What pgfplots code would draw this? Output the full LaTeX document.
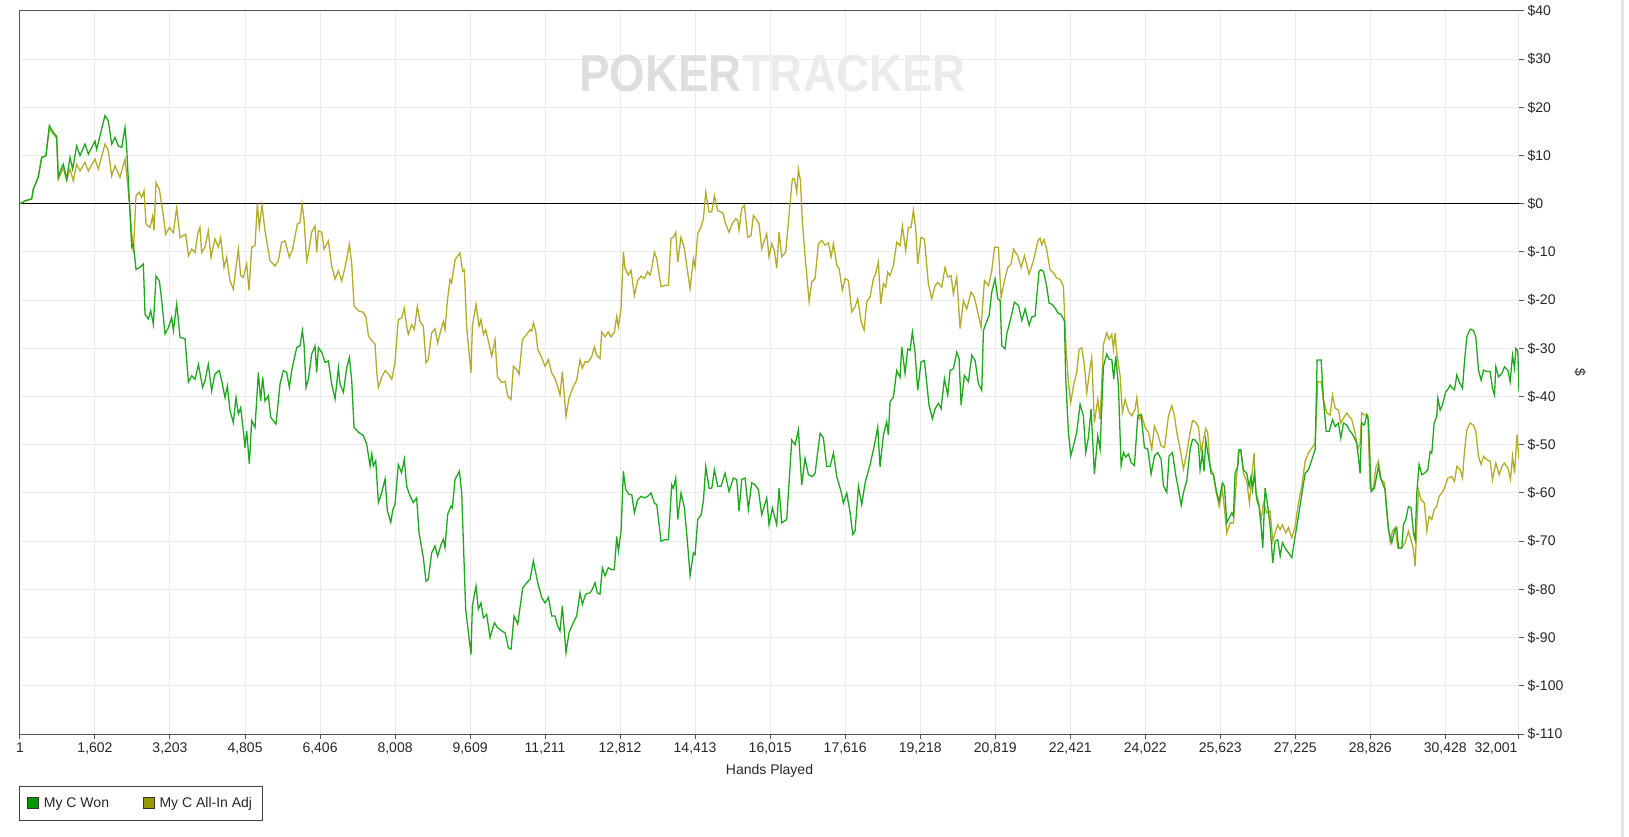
\documentclass[border=0pt]{standalone}
\usepackage{fontspec}
\setmainfont{Liberation Sans}
\usepackage{pgfplots}
\usepackage{pgfplotstable}
\pgfplotsset{compat=1.18}
\definecolor{cgreen}{RGB}{30,168,30}
\definecolor{colive}{RGB}{178,172,40}
\definecolor{boxgreen}{RGB}{0,153,0}
\definecolor{boxolive}{RGB}{153,153,0}
\definecolor{gridc}{RGB}{235,235,235}
\definecolor{axc}{RGB}{85,85,85}

\pgfplotstableread{
x y
1 0
107 0.6
250 1
285 3
390 5.5
463 9.6
555 10
627 16.2
712 14.8
783 14
819 5.5
890 7.5
926 8.2
997 5.1
1068 9.6
1125 7.2
1210 12
1282 10
1388 12.4
1460 10.3
1602 13
1638 11.3
1744 15.5
1816 18.3
1887 17.2
1958 12.4
2029 13.8
2100 12
2172 11.7
2243 15.8
2278 11.7
2350 -2.1
2385 -9
2421 -8.4
2478 -13.6
2563 -13.2
2634 -12.5
2670 -22.9
2741 -23.9
2791 -22.2
2848 -25
2905 -15
2976 -16
3026 -20
3097 -27
3168 -25.7
3240 -23.6
3275 -26.3
3346 -20.8
3418 -27.7
3524 -28
3596 -37
3667 -35.7
3738 -36.4
3809 -33.3
3900 -38.1
3950 -36.7
4021 -33.3
4092 -38.8
4163 -35.3
4256 -34.6
4306 -36.7
4377 -40.2
4427 -37.8
4484 -42.9
4555 -45.4
4612 -40.2
4662 -43.6
4712 -42.3
4769 -47.1
4804 -50.6
4840 -47.1
4897 -54
4947 -45
5018 -46.4
5089 -35
5139 -40.9
5182 -36
5231 -40.9
5303 -39.8
5352 -44.3
5466 -45.7
5552 -37.4
5623 -34.6
5694 -35
5751 -38.1
5801 -34.6
5908 -29.8
5979 -29.5
6029 -26.3
6064 -29.1
6107 -38.1
6157 -36.4
6228 -31.2
6299 -29.5
6335 -35
6371 -29.8
6442 -30.8
6513 -32.9
6584 -32.6
6655 -37.4
6727 -40.5
6798 -34
6833 -37.4
6905 -39.1
6976 -34
7033 -31.9
7083 -36.7
7132 -46.4
7225 -47.4
7332 -48.1
7403 -49.9
7474 -54.4
7510 -51.9
7545 -54.4
7595 -53.3
7652 -62
7723 -59.9
7795 -57.1
7844 -63.7
7916 -66.1
7960 -63.5
8006 -62.4
8077 -54.1
8148 -55.8
8205 -53
8255 -58.6
8326 -60.6
8398 -62
8469 -61
8519 -68.2
8611 -73.4
8668 -78.3
8718 -77.9
8789 -72.4
8860 -71
8917 -73.1
8989 -70.7
9038 -69.6
9074 -71.3
9131 -64.4
9202 -62.7
9231 -63.1
9288 -57.2
9380 -55.5
9430 -59.9
9515 -84.1
9629 -93.5
9658 -83.4
9736 -79.3
9786 -84.1
9843 -82.8
9893 -85.9
9964 -85.2
10035 -90
10128 -86.9
10192 -87.9
10284 -88.6
10356 -89
10427 -92.1
10484 -92.4
10548 -85.5
10626 -87.2
10733 -79.7
10818 -78.6
10890 -77.9
10960 -74.1
11053 -78.6
11139 -81.7
11210 -82.8
11281 -81.7
11352 -85.5
11422 -85.5
11479 -87.6
11529 -88.6
11579 -83.4
11657 -93.1
11721 -89
11814 -86.9
11885 -85.5
11956 -80.7
12006 -83.1
12077 -81
12170 -80.7
12219 -80
12276 -78.6
12326 -80.7
12383 -81
12433 -75.5
12490 -77.2
12561 -75.5
12632 -75.9
12689 -75.9
12739 -69
12775 -72.1
12832 -67.9
12882 -55.5
12931 -59.3
13003 -60.3
13060 -60.3
13117 -64.1
13188 -61.4
13259 -60.7
13330 -61
13401 -60.7
13473 -60
13544 -62.1
13594 -62.4
13686 -70
13772 -69.7
13843 -69.7
13914 -58.3
13950 -59
14000 -56.9
14042 -65.5
14113 -60
14185 -63.1
14256 -71
14306 -77.2
14377 -72.4
14412 -72.8
14469 -65.5
14541 -64.5
14590 -61.7
14640 -54.5
14711 -59
14768 -59
14825 -55.2
14895 -58.6
14966 -58.6
15052 -55.9
15137 -59.7
15230 -56.9
15301 -57.2
15351 -63.8
15408 -57.2
15479 -56.9
15550 -63.4
15621 -57.9
15692 -58.3
15764 -59.3
15835 -64.5
15942 -61
15991 -66.6
16063 -63.1
16155 -66.6
16205 -59
16262 -66.2
16369 -65.5
16476 -49
16547 -50
16618 -46.9
16689 -58.3
16760 -52.8
16832 -56.2
16917 -56.6
16974 -55.9
17081 -47.6
17152 -48.6
17223 -54.5
17294 -54.5
17366 -51.7
17437 -56.6
17529 -59.7
17579 -62.1
17650 -60
17722 -64.1
17779 -68.6
17828 -67.9
17900 -58.6
17971 -62.4
18042 -57.9
18149 -54.1
18220 -51
18254 -49.4
18311 -46.3
18361 -54.6
18432 -48
18503 -45.2
18539 -48
18574 -41.1
18646 -40.1
18717 -34.6
18788 -36
18824 -29.7
18895 -35.2
18952 -30.1
19002 -30.4
19051 -26.6
19108 -30.8
19165 -38.7
19237 -32.8
19308 -32.5
19407 -41.8
19479 -44.6
19536 -42.5
19607 -41.4
19664 -42.5
19735 -36.3
19806 -39.7
19856 -34.6
19927 -34.2
19998 -30.8
20048 -32.1
20091 -41.8
20162 -35.6
20248 -36.9
20319 -31.4
20390 -32.5
20461 -37.3
20532 -38.7
20568 -26.3
20618 -24.9
20689 -23.2
20746 -18.3
20817 -15.6
20874 -19.7
20924 -20.1
20960 -29.4
21031 -30.1
21066 -27
21159 -23.5
21230 -20.4
21316 -21.1
21387 -24.2
21458 -21.8
21543 -25.2
21600 -23.5
21670 -23.3
21706 -19.2
21755 -14
21798 -13.7
21848 -14
21919 -17.1
21969 -20.6
22040 -20.9
22097 -21.6
22154 -22.6
22225 -23
22297 -24.3
22325 -36.4
22382 -47.4
22432 -52.3
22489 -50.2
22560 -47.4
22631 -41.6
22702 -44
22752 -51.6
22809 -48.5
22866 -42.6
22937 -56.1
23009 -48.1
23058 -50.9
23130 -33.7
23201 -31.2
23251 -32.3
23308 -32.3
23350 -36.4
23393 -31.6
23450 -37.8
23507 -54.3
23557 -51.6
23607 -52.6
23664 -51.9
23721 -53.7
23792 -54.3
23863 -44
23934 -43.7
24005 -50.6
24077 -50.9
24148 -56.1
24219 -52.3
24290 -51.6
24361 -53
24411 -58.5
24482 -59.9
24532 -52.3
24603 -51.6
24675 -56.4
24717 -58.5
24789 -62.6
24838 -59.9
24910 -57.4
24981 -50.9
25031 -48.9
25086 -49
25157 -50
25193 -55.2
25243 -51.7
25278 -55.5
25314 -49
25371 -52.4
25428 -55.9
25478 -56.2
25549 -60
25599 -61.7
25670 -57.9
25713 -58.6
25762 -66.2
25812 -65.2
25869 -64.1
25905 -64.8
25940 -55.9
25997 -54.5
26026 -51
26061 -51
26118 -55.2
26190 -55.9
26239 -58.6
26282 -56.6
26311 -59.3
26353 -55.9
26403 -61.4
26453 -62.8
26496 -66.9
26531 -71.4
26581 -59
26638 -62.8
26688 -66.9
26745 -74.5
26795 -70
26852 -69.7
26902 -73.1
26951 -70.3
27023 -71.7
27080 -72.4
27151 -73.4
27222 -69
27293 -64.8
27364 -60.3
27436 -55.9
27507 -55.2
27578 -53.1
27649 -51
27692 -32.4
27777 -32.4
27827 -40.7
27884 -47.2
27948 -47.2
28019 -44.8
28076 -46.2
28147 -45.5
28197 -48.6
28254 -45.5
28326 -45.9
28375 -46.9
28432 -47.6
28489 -48.6
28538 -49.7
28587 -53.8
28609 -55.9
28644 -45.5
28701 -45.9
28751 -43.8
28787 -44.8
28844 -59.7
28915 -59
28965 -56.2
29000 -54.5
29036 -56.6
29086 -57.9
29143 -59.3
29214 -67.6
29285 -70.3
29342 -67.9
29392 -67.2
29428 -71.4
29499 -71.4
29534 -66.6
29584 -65.5
29641 -62.8
29698 -63.1
29748 -68.3
29784 -69.7
29819 -60
29869 -54.1
29926 -56.2
29983 -55.9
30054 -55.2
30104 -51.4
30140 -51.7
30190 -45.5
30246 -44.1
30268 -40.3
30318 -42.8
30367 -41.7
30439 -39
30496 -38.3
30531 -37.6
30581 -38.3
30624 -38.6
30674 -35.5
30723 -36.9
30795 -38.3
30837 -32.8
30887 -27.6
30958 -26
31030 -26.3
31079 -27.6
31136 -34.5
31193 -36.6
31243 -34.5
31314 -34.8
31386 -34.8
31435 -38.3
31478 -39.7
31507 -33.8
31564 -35.9
31635 -35.2
31692 -33.8
31763 -34.5
31813 -36.9
31863 -31.4
31905 -34.1
31934 -30
31975 -30.5
32001 -39
}\greendata

\pgfplotstableread{
x y
1 0
107 0.6
250 1
285 3
390 5.5
463 9.6
555 10
627 15.5
712 14.5
783 13.5
819 5.1
926 7.5
997 4.8
1068 7.2
1139 4.8
1210 8.2
1282 6.8
1388 8.6
1460 6.8
1602 9.3
1673 7.2
1816 12.4
1887 11
1958 5.8
2029 7.9
2136 5.5
2243 9.3
2293 4.8
2350 -1.5
2421 -10.1
2478 1.7
2549 2.4
2599 1.3
2649 2.7
2691 -4.2
2777 -4.9
2834 -2.5
2862 -5.6
2905 4.4
2976 3
3047 -1.5
3111 -6.3
3190 -4.9
3275 -6
3346 -0.8
3418 -7
3539 -6.3
3596 -10.8
3667 -9.4
3738 -10.1
3800 -6
3843 -4.9
3879 -10.1
3950 -9
4021 -5.6
4078 -11.1
4163 -7.3
4235 -9
4284 -7
4356 -13.2
4413 -11.1
4484 -16
4555 -17.7
4612 -13.2
4662 -9.4
4712 -14.9
4769 -15.3
4840 -12.5
4890 -18
4947 -9
5018 -8.7
5068 0
5110 -4.9
5167 -0.3
5231 -5.6
5338 -11.8
5445 -12.9
5516 -11.8
5587 -8
5659 -7.7
5751 -11.1
5822 -9.4
5922 -4.2
5979 -3.9
6022 0
6064 -3.2
6121 -11.8
6157 -10.4
6228 -5.9
6299 -4.6
6335 -10.1
6371 -5.6
6442 -5.9
6492 -9.4
6584 -7.7
6655 -12.9
6727 -15.6
6798 -13.9
6869 -16
6940 -13.2
7033 -8.4
7083 -12.5
7132 -21.2
7225 -22.2
7332 -22.5
7389 -23.6
7439 -27.4
7510 -28.4
7581 -29.1
7617 -35
7652 -38.1
7723 -36
7795 -34.6
7866 -35.3
7937 -36.4
8006 -33
8077 -24
8148 -23.7
8205 -21.6
8255 -25.4
8291 -27.1
8362 -25.1
8419 -26.1
8483 -21.3
8540 -24.4
8611 -25.4
8668 -33
8718 -32.3
8789 -26.8
8860 -25.9
8917 -28.9
8989 -26.1
9038 -24.4
9074 -26.1
9124 -20.2
9181 -15.7
9216 -16.4
9288 -11.6
9394 -10.2
9451 -14
9487 -13.7
9537 -25.7
9629 -35.1
9658 -25.4
9736 -20.9
9800 -25.4
9843 -24
9893 -27.1
9943 -26.1
10000 -28.5
10071 -31.6
10142 -28.2
10192 -35.8
10284 -37.1
10356 -36.8
10413 -39.9
10484 -40.6
10534 -33.7
10605 -34.4
10655 -35.4
10726 -28.2
10818 -27.1
10890 -26.1
10925 -26.4
10960 -24.7
11010 -26.4
11053 -30.2
11125 -31.6
11210 -33.7
11281 -32.3
11352 -35.1
11422 -36.2
11479 -37.9
11529 -39.7
11579 -34.8
11657 -44.1
11721 -40.3
11814 -37.9
11885 -36.6
11956 -32.4
12006 -34.1
12063 -32.8
12134 -32.8
12205 -31.7
12262 -29.7
12312 -31.4
12383 -32.1
12419 -26.6
12490 -27.6
12561 -26.6
12618 -27.6
12689 -26.6
12739 -23.4
12775 -25.5
12832 -21.7
12882 -10
12917 -13.4
12988 -14.8
13045 -13.8
13117 -19
13188 -15.9
13259 -15
13330 -15.5
13401 -14.1
13451 -14.8
13487 -13.4
13544 -10
13594 -11.4
13686 -17.2
13772 -16.9
13843 -16.9
13900 -7.2
13950 -6.9
14000 -5.9
14042 -12.1
14113 -6.9
14185 -9.3
14234 -12.8
14306 -17.6
14377 -11.4
14412 -13.1
14469 -6.2
14541 -4.8
14590 -3.1
14640 2.4
14711 -1.7
14768 -1.7
14825 1.7
14895 -1.4
14966 -1.7
15016 -2.1
15052 -3.8
15137 -5.9
15208 -4.1
15279 -3.1
15322 -3.4
15351 -5.5
15408 -1
15465 -0.3
15536 -6.9
15607 -6.6
15657 -2.4
15728 -3.4
15778 -4.1
15835 -9.3
15942 -6.2
15991 -11
16048 -8.3
16105 -9.7
16155 -13.4
16205 -5.9
16262 -11
16347 -10
16440 0
16490 5.2
16533 5.2
16582 2.4
16618 7.2
16661 4.8
16703 -3.8
16760 -10.7
16846 -20.3
16903 -16.2
16974 -15.5
17045 -8.3
17116 -7.6
17188 -8.6
17259 -8.1
17316 -11
17366 -8.3
17437 -12.8
17487 -13.4
17558 -17.9
17615 -15.5
17686 -15.9
17757 -22.4
17828 -21.4
17885 -19.7
17957 -24.5
18021 -26.2
18078 -20.3
18149 -19.3
18220 -15.5
18254 -14.9
18325 -12.1
18375 -20.8
18432 -16.6
18482 -17.3
18525 -14.2
18574 -14.9
18646 -12.8
18717 -8
18788 -8.7
18838 -4.6
18909 -9.7
18966 -4.9
19023 -4.9
19073 -1.4
19123 -5.2
19165 -12.5
19237 -7
19308 -7.3
19393 -16.6
19464 -19.7
19536 -17
19593 -16.3
19678 -17.3
19749 -13.2
19806 -15.2
19877 -14.9
19927 -18.7
19998 -15.2
20070 -25.9
20141 -20.1
20212 -21.8
20305 -18.3
20376 -19.4
20447 -22.5
20518 -25.6
20589 -15.9
20675 -17
20746 -13.9
20803 -9
20888 -9
20945 -19.4
21017 -15.9
21088 -13.2
21159 -12.5
21209 -9.4
21301 -10.8
21373 -13.2
21444 -10.8
21543 -14.6
21636 -11.8
21727 -7.8
21777 -7.1
21812 -8.5
21862 -7.4
21919 -9.5
21990 -13.7
22062 -14.3
22133 -15.4
22204 -15.7
22275 -17.1
22325 -28.8
22382 -37.1
22432 -41.2
22489 -37.8
22560 -35
22610 -30.2
22667 -29.9
22717 -33
22774 -39.2
22845 -34
22880 -31.9
22937 -45.4
23009 -40.6
23058 -44.7
23130 -29.2
23201 -26.8
23251 -28.1
23308 -27.1
23343 -30.2
23379 -26.8
23414 -30.9
23486 -35.7
23535 -43.3
23592 -40.6
23664 -43
23735 -44
23806 -42.6
23842 -40.2
23891 -44.7
23948 -44
24020 -46.4
24091 -47.4
24162 -50.9
24219 -46.1
24290 -47.8
24361 -50.2
24433 -50.6
24518 -44
24589 -41.9
24646 -44
24696 -47.4
24767 -50.9
24838 -55
24910 -51.6
24981 -47.4
25031 -45
25086 -45.2
25157 -46.2
25214 -51.4
25264 -49
25314 -46.6
25357 -47.6
25406 -54.5
25478 -56.2
25527 -59.3
25599 -62.8
25670 -59.3
25727 -64.5
25762 -68.3
25834 -66.2
25905 -66.2
25955 -59.3
26012 -51.4
26061 -51
26118 -55.9
26190 -57.6
26247 -62.1
26296 -56.6
26346 -51.7
26382 -60
26439 -61.7
26496 -65.5
26546 -62.1
26617 -64.1
26688 -63.8
26745 -70
26795 -68.3
26852 -66.6
26902 -67.6
26951 -66.6
27023 -68.3
27080 -67.2
27151 -69.3
27222 -66.9
27293 -62.1
27364 -58.6
27436 -53.4
27507 -51.7
27578 -50.7
27649 -49.7
27706 -36.9
27777 -36.9
27827 -40.7
27898 -43.4
27970 -43.8
28019 -39.7
28076 -42.4
28147 -42.8
28197 -45.5
28254 -44.5
28326 -43.4
28375 -44.1
28432 -44.8
28504 -47.6
28559 -51
28609 -49.7
28644 -43.4
28701 -43.8
28773 -43.8
28822 -59
28894 -59
28943 -54.8
29000 -53.4
29057 -57.2
29129 -57.9
29178 -64.1
29250 -70.3
29299 -67.9
29356 -67.2
29413 -71.4
29499 -71.4
29570 -70.3
29641 -67.9
29712 -70.3
29748 -71.7
29784 -75.2
29819 -66.9
29855 -59.3
29912 -61.4
29983 -62.1
30033 -67.9
30083 -64.8
30140 -65.5
30190 -63.4
30246 -62.8
30296 -60.7
30353 -60
30410 -59
30481 -56.9
30567 -56.6
30624 -57.6
30674 -54.5
30745 -55.2
30795 -56.9
30837 -51.4
30887 -46.9
30958 -45.5
31030 -45.9
31079 -47.2
31136 -52.4
31193 -54.1
31243 -52.4
31314 -53.1
31386 -53.4
31435 -57.2
31507 -53.8
31578 -56.2
31635 -54.5
31692 -53.8
31763 -54.8
31820 -57.2
31863 -52.4
31905 -55.9
31960 -47.9
32001 -53
}\olivedata

\begin{document}
\begin{tikzpicture}
\useasboundingbox (-20pt,-103pt) rectangle (1609pt,734pt);
\fill[black!10] (1601pt,-103pt) rectangle (1604pt,734pt);
\begin{axis}[
  scale only axis,
  width=1499pt, height=723pt,
  xmin=1, xmax=32001, ymin=-110, ymax=40,
  scaled x ticks=false, scaled y ticks=false,
  axis line style={draw=axc, line width=1pt},
  every tick/.style={draw=axc, line width=1pt},
  tick align=outside,
  major tick length=5pt,
  xtick pos=bottom, ytick pos=right,
  yticklabel pos=right,
  xtick={1,1602,3203,4805,6406,8008,9609,11211,12812,14413,16015,17616,19218,20819,22421,24022,25623,27225,28826,30428},
  xticklabels={1,1{,}602,3{,}203,4{,}805,6{,}406,8{,}008,9{,}609,11{,}211,12{,}812,14{,}413,16{,}015,17{,}616,19{,}218,20{,}819,22{,}421,24{,}022,25{,}623,27{,}225,28{,}826,30{,}428},
  extra x ticks={32001},
  extra x tick labels={32{,}001},
  extra x tick style={xticklabel style={anchor=north east, xshift=2pt}},
  ytick={-110,-100,...,40},
  yticklabels={\$-110,\$-100,\$-90,\$-80,\$-70,\$-60,\$-50,\$-40,\$-30,\$-20,\$-10,\$0,\$10,\$20,\$30,\$40},
  yticklabel style={anchor=west},
  ticklabel style={font=\fontsize{14}{16}\selectfont, text=black!85},
  xmajorgrids, ymajorgrids,
  major grid style={draw=gridc, line width=1pt},
  xlabel={Hands Played},
  xlabel style={at={(axis description cs:0.5,-0.0512)}, anchor=center, font=\fontsize{14}{16}\selectfont, text=black!85},
  ylabel={\$},
  ylabel style={at={(axis description cs:1.0407,0.5)}, anchor=center, rotate=180, font=\fontsize{14}{16}\selectfont, text=black!85},
  legend columns=2,
  legend style={at={(axis description cs:-0.0007,-0.0719)}, anchor=north west,
    draw=black!75, line width=1pt, fill=white,
    font=\fontsize{14}{16}\selectfont, text=black!85,
    inner xsep=8pt, inner ysep=9pt,
    /tikz/every even column/.append style={column sep=32pt}},
]
\node[anchor=center, inner sep=0pt, xscale=0.88] at (rel axis cs:0.502,0.914)
  {\fontsize{52}{56}\selectfont\bfseries\textcolor{black!13}{POKER}\textcolor{black!8}{TRACKER}};
\addlegendimage{legend image code/.code={\draw[fill=boxgreen, draw=black!80, line width=1pt] (0pt,-5.5pt) rectangle (11pt,5.5pt); \path[draw=none, fill=none] (14pt,0pt) circle (0pt);}}
\addlegendentry{My C Won}
\addlegendimage{legend image code/.code={\draw[fill=boxolive, draw=black!80, line width=1pt] (0pt,-5.5pt) rectangle (11pt,5.5pt); \path[draw=none, fill=none] (14pt,0pt) circle (0pt);}}
\addlegendentry{My C All-In Adj}
\addplot[black, line width=1.2pt, forget plot] coordinates {(1,0) (32001,0)};
\addplot[colive, line width=1.3pt, forget plot] table {\olivedata};
\addplot[cgreen, line width=1.3pt, forget plot] table {\greendata};
\end{axis}
\end{tikzpicture}
\end{document}
